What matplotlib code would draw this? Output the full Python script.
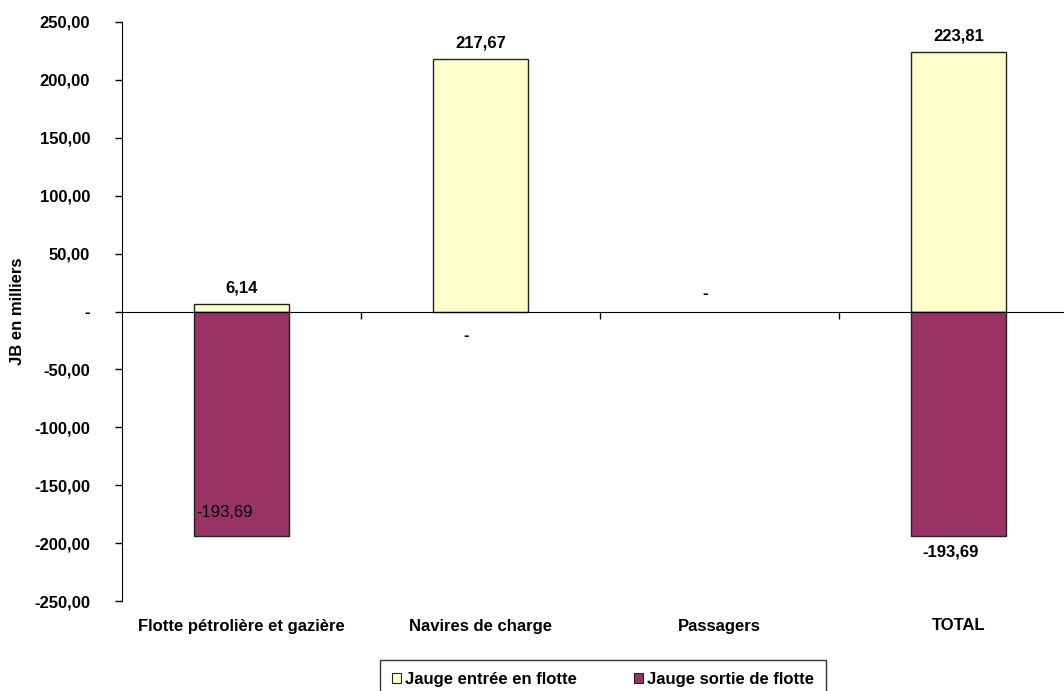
import matplotlib
matplotlib.use("Agg")
import matplotlib.pyplot as plt
from matplotlib.patches import Patch
import matplotlib.transforms as mtransforms

categories = ["Flotte pétrolière et gazière", "Navires de charge", "Passagers", "TOTAL"]
entree = [6.14, 217.67, 0.0, 223.81]
sortie = [-193.69, 0.0, 0.0, -193.69]
series_names = ["Jauge entrée en flotte", "Jauge sortie de flotte"]
yticks = [-250, -200, -150, -100, -50, 0, 50, 100, 150, 200, 250]

def fmt(v):
    if abs(v) < 1e-9:
        return "-"
    return f"{v:,.2f}".replace(",", " ").replace(".", ",")

plt.rcParams['font.family'] = ['Liberation Sans', 'DejaVu Sans']
FS = 12
W, H = 1064, 691
fig = plt.figure(figsize=(W/100, H/100), dpi=100)
ax = fig.add_axes([122/W, 90/H, 956/W, 579/H])

c_in = "#FFFFCC"
c_out = "#993366"
x = list(range(len(categories)))
lw_in = [1.0 if v != 0 else 0 for v in entree]
lw_out = [1.0 if v != 0 else 0 for v in sortie]
ax.bar(x, entree, width=0.4, color=c_in, edgecolor="#222222", linewidth=lw_in, zorder=2)
ax.bar(x, sortie, width=0.4, color=c_out, edgecolor="#222222", linewidth=lw_out, zorder=2)

ax.set_xlim(-0.5, 3.5)
ax.set_ylim(-250, 250)
ax.set_yticks(yticks)
ax.set_yticklabels([fmt(v) for v in yticks], fontsize=FS, fontweight='bold')
ax.tick_params(axis='y', direction='out', length=5, width=1, pad=18)

for s in ['top', 'right']:
    ax.spines[s].set_visible(False)
ax.spines['bottom'].set_position(('data', 0))
ax.spines['bottom'].set_zorder(3)
ax.set_xticks([0.5, 1.5, 2.5])
ax.set_xticklabels([])
ax.tick_params(axis='x', direction='out', length=5, width=1)

trans = mtransforms.blended_transform_factory(ax.transData, ax.transAxes)
for i, c in enumerate(categories):
    ax.text(i, -25/579, c, transform=trans, ha='center', va='center',
            fontsize=FS, fontweight='bold')

ax.set_ylabel("JB en milliers", fontsize=FS, fontweight='bold')
ax.yaxis.set_label_coords(-97/956, 0.5)

# data labels (offsets in points)
pos_off = [(0, 12), (0, 12), (-10, 13), (0, 12)]
for i, v in enumerate(entree):
    dx, dy = pos_off[i]
    ax.annotate(fmt(v), (i, v), xytext=(dx, dy), textcoords='offset points',
                ha='center', va='center', fontsize=FS, fontweight='bold')
neg_specs = [(-12, 17, 'normal'), (-10, -17, 'bold'), None, (-6, -12, 'bold')]
for i, v in enumerate(sortie):
    spec = neg_specs[i]
    if spec is None:
        continue
    dx, dy, w = spec
    ax.annotate(fmt(v), (i, v), xytext=(dx, dy), textcoords='offset points',
                ha='center', va='center', fontsize=FS, fontweight=w)

handles = [Patch(facecolor=c_in, edgecolor='#222222', linewidth=0.8),
           Patch(facecolor=c_out, edgecolor='#222222', linewidth=0.8)]
leg = fig.legend(handles, series_names, loc='upper center',
                 bbox_to_anchor=(603/W, 1 - 660/H), ncol=2, frameon=True,
                 fancybox=False, edgecolor='black', handlelength=0.55, handleheight=0.5,
                 handletextpad=0.25, columnspacing=3.4, borderpad=0.7,
                 borderaxespad=0.0,
                 prop={'size': FS, 'weight': 'bold'})
leg.get_frame().set_linewidth(1.0)

fig.savefig("out.png", dpi=100)
